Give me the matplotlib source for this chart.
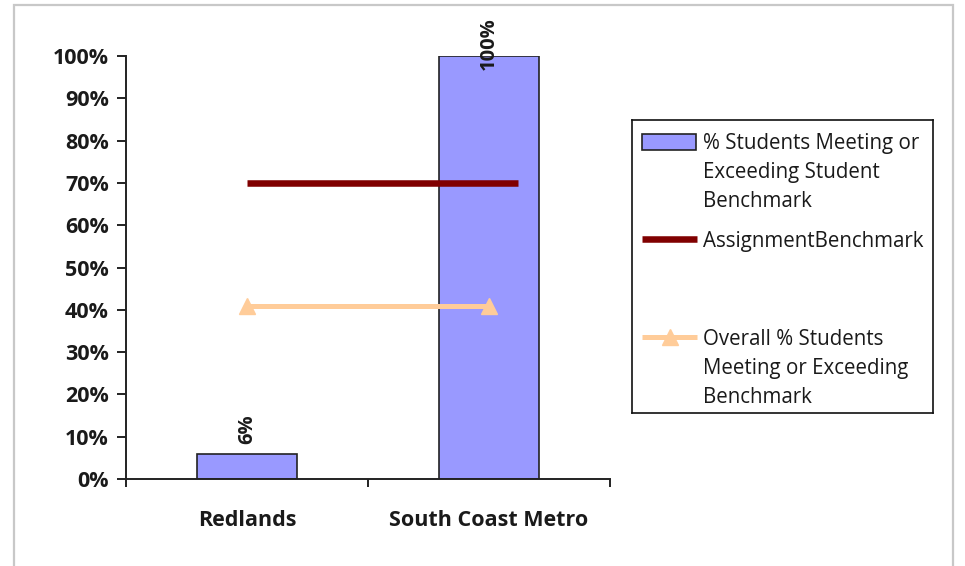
import matplotlib
matplotlib.use("Agg")
import matplotlib.pyplot as plt
from matplotlib.patches import Rectangle
from matplotlib.ticker import PercentFormatter

plt.rcParams['font.family'] = ['Open Sans', 'DejaVu Sans']

# data
sites = ["Redlands", "South Coast Metro"]
pct_meeting = [0.06, 1.00]
assignment_benchmark = [0.70, 0.70]
benchmark_span = [0.0, 1.12]   # Excel drew this series a bit past the last category
overall_pct = [0.41, 0.41]

bar_labels = ["% Students Meeting or\nExceeding Student\nBenchmark",
              "AssignmentBenchmark",
              "Overall % Students\nMeeting or Exceeding\nBenchmark"]

BAR_COLOR = "#9999FF"
RED = "#800000"
ORANGE = "#FFCC99"
TXT = "#1a1a1a"

fig = plt.figure(figsize=(9.65, 5.66), dpi=100)

# outer chart border (grey frame like the Excel chart area)
fig.patches.append(Rectangle((14 / 965, -0.1), (953 - 14) / 965, 1.1 - 5 / 566,
                             transform=fig.transFigure, fill=False,
                             edgecolor="#c8c8c8", linewidth=1.6))

ax = fig.add_axes([126 / 965, 1 - 479 / 566, (610 - 126) / 965, (479 - 56) / 566])
x = list(range(len(sites)))

ax.bar(x, pct_meeting, width=0.41, color=BAR_COLOR, edgecolor="#222222", linewidth=1.2, zorder=2)
ax.plot(benchmark_span, assignment_benchmark, color=RED, linewidth=4.7, solid_capstyle="butt", zorder=3)
ax.plot(x, overall_pct, color=ORANGE, linewidth=3.6, marker="^", markersize=12, zorder=4)

# rotated data labels
for xi, v in zip(x, pct_meeting):
    if v > 0.9:
        ax.annotate(f"{v:.0%}", (xi, v), xytext=(0, 9), textcoords="offset points",
                    rotation=90, ha="center", va="center", fontsize=14.5, fontweight="bold",
                    color=TXT, annotation_clip=False)
    else:
        ax.annotate(f"{v:.0%}", (xi, v), xytext=(0, 7), textcoords="offset points",
                    rotation=90, ha="center", va="bottom", fontsize=14.5, fontweight="bold",
                    color=TXT)

ax.set_xlim(-0.5, 1.5)
ax.set_ylim(0, 1)
ax.set_yticks([i / 10 for i in range(11)])
ax.yaxis.set_major_formatter(PercentFormatter(1.0, decimals=0))
ax.set_xticks(x)
ax.set_xticklabels(sites)
ax.set_xticks([-0.5, 0.5, 1.5], minor=True)

for s in ["top", "right"]:
    ax.spines[s].set_visible(False)
for s in ["left", "bottom"]:
    ax.spines[s].set_linewidth(1.4)
    ax.spines[s].set_color("#222222")

ax.tick_params(axis="y", length=6.5, width=1.4, pad=6, labelsize=15.5, colors="#222222", labelcolor=TXT)
ax.tick_params(axis="x", which="major", length=0, pad=22, labelsize=15.5, labelcolor=TXT)
ax.tick_params(axis="x", which="minor", length=6, width=1.4, colors="#222222")
for lab in ax.get_yticklabels() + ax.get_xticklabels():
    lab.set_fontweight("bold")

# legend drawn in its own pixel-space box, Excel style
lg = fig.add_axes([632 / 965, 1 - 413 / 566, (933 - 632) / 965, (413 - 120) / 566])
lg.set_xlim(0, 301)
lg.set_ylim(293, 0)
lg.set_xticks([])
lg.set_yticks([])
for s in lg.spines.values():
    s.set_linewidth(1.2)
    s.set_color("#111111")

lg.add_patch(Rectangle((10, 14), 54, 16, facecolor=BAR_COLOR, edgecolor="#222222", linewidth=1.2))
lg.plot([10, 65], [119, 119], color=RED, linewidth=4.7, solid_capstyle="butt")
lg.plot([10, 65], [217, 217], color=ORANGE, linewidth=3.6, solid_capstyle="butt")
lg.plot([37.5], [217], color=ORANGE, marker="^", markersize=12)

for ty, lab in zip([21, 119, 217], bar_labels):
    lg.text(71, ty - 8, lab, va="top", ha="left", fontsize=14.8, color=TXT,
            linespacing=1.5)

fig.savefig("out.png", dpi=100)
